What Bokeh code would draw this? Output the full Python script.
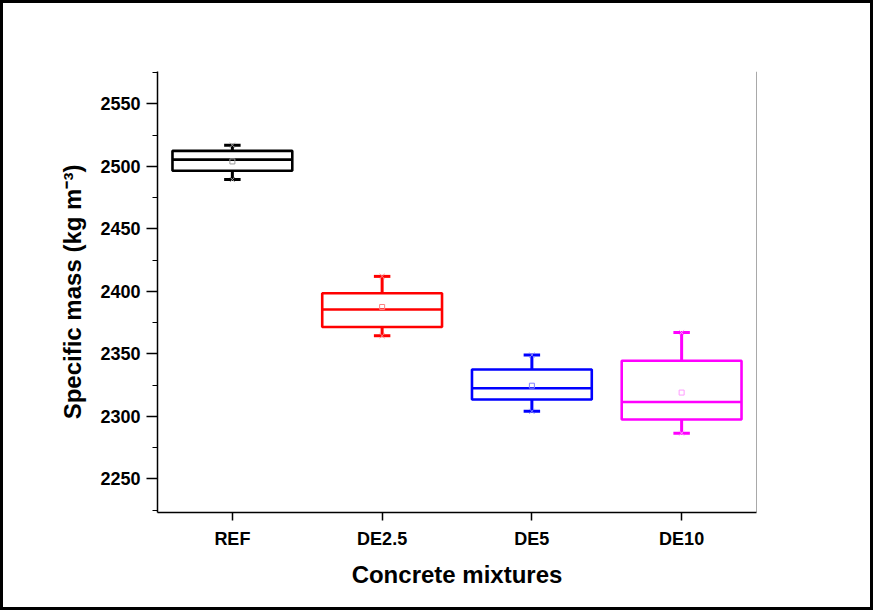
from bokeh.plotting import figure
from bokeh.models import FixedTicker, Span, ColumnDataSource
from bokeh.embed import file_html
from bokeh.resources import INLINE

# ---- data ----
categories = ["REF", "DE2.5", "DE5", "DE10"]
whisker_low = [2489.5, 2364.5, 2304.0, 2286.5]
q1 = [2496.5, 2371.5, 2313.5, 2297.5]
median = [2505.5, 2385.5, 2322.5, 2311.5]
q3 = [2512.5, 2398.5, 2337.5, 2344.5]
whisker_high = [2517.0, 2412.0, 2349.0, 2367.0]
means = [2504.0, 2387.5, 2324.5, 2319.0]
colors = ["#000000", "#FF0000", "#0000FF", "#FF00FF"]
mean_colors = ["#9a9a9a", "#ff8080", "#8080ff", "#ff9cff"]

yticks = [2250, 2300, 2350, 2400, 2450, 2500, 2550]

xs = [i + 1 for i in range(len(categories))]
box_w = 0.8
cap_w = 0.11

src = ColumnDataSource(dict(
    x=xs, q1=q1, q3=q3, med=median, lo=whisker_low, hi=whisker_high,
    mean=means, color=colors, mcolor=mean_colors,
    bx0=[x - box_w / 2 for x in xs], bx1=[x + box_w / 2 for x in xs],
    cx0=[x - cap_w / 2 for x in xs], cx1=[x + cap_w / 2 for x in xs],
))

p = figure(width=873, height=610, output_backend="svg", toolbar_location=None,
           x_range=(0.5, 4.5), y_range=(2223, 2576),
           min_border_left=157, min_border_right=117,
           min_border_top=71, min_border_bottom=98)
p.styles = {"box-shadow": "inset 0 0 0 3px black"}

p.grid.visible = False
p.outline_line_color = None
p.background_fill_alpha = 0
p.border_fill_alpha = 0

# whiskers
p.segment(x0="x", y0="q3", x1="x", y1="hi", source=src, line_color="color", line_width=3)
p.segment(x0="x", y0="q1", x1="x", y1="lo", source=src, line_color="color", line_width=3)
# caps
p.segment(x0="cx0", y0="hi", x1="cx1", y1="hi", source=src, line_color="color", line_width=3)
p.segment(x0="cx0", y0="lo", x1="cx1", y1="lo", source=src, line_color="color", line_width=3)
# min/max markers
p.scatter(x="x", y="hi", source=src, marker="x", size=7, line_color="mcolor", line_width=1)
p.scatter(x="x", y="lo", source=src, marker="x", size=7, line_color="mcolor", line_width=1)
# boxes
p.quad(left="bx0", right="bx1", bottom="q1", top="q3", source=src,
       fill_color=None, line_color="color", line_width=2.6)
# medians
p.segment(x0="bx0", y0="med", x1="bx1", y1="med", source=src, line_color="color", line_width=2.6)
# means
p.scatter(x="x", y="mean", source=src, marker="square", size=5, fill_color=None,
          line_color="mcolor", line_width=1)

# right frame line
p.add_layout(Span(location=4.5, dimension="height", line_color="#555555", line_width=1))

font = "Liberation Sans"
# x axis
xa = p.xaxis[0]
xa.ticker = FixedTicker(ticks=xs, minor_ticks=[])
xa.major_label_overrides = {x: c for x, c in zip(xs, categories)}
xa.axis_label = "Concrete mixtures"
xa.axis_label_text_font = font
xa.axis_label_text_font_style = "bold"
xa.axis_label_text_font_size = "24px"
xa.axis_label_text_color = "black"
xa.axis_label_standoff = 9
xa.major_label_text_font = font
xa.major_label_text_font_style = "bold"
xa.major_label_text_font_size = "18px"
xa.major_label_text_color = "black"
xa.major_label_standoff = 8
xa.major_tick_out = 8
xa.major_tick_in = 0
xa.minor_tick_out = 0
xa.minor_tick_in = 0
xa.axis_line_width = 1.5
xa.major_tick_line_width = 1.5
xa.axis_line_color = "black"

ya = p.yaxis[0]
ya.ticker = FixedTicker(ticks=yticks, minor_ticks=[v + 25 for v in yticks] + [yticks[0] - 25])
ya.axis_label = "Specific mass (kg m\u207b\u00b3)"
ya.axis_label_text_font = font
ya.axis_label_text_font_style = "bold"
ya.axis_label_text_font_size = "24px"
ya.axis_label_text_color = "black"
ya.axis_label_standoff = 11
ya.major_label_text_font = font
ya.major_label_text_font_style = "bold"
ya.major_label_text_font_size = "18px"
ya.major_label_text_color = "black"
ya.major_label_standoff = 6
ya.major_tick_out = 11
ya.major_tick_in = 0
ya.minor_tick_out = 5
ya.minor_tick_in = 0
ya.axis_line_width = 1.5
ya.major_tick_line_width = 1.5
ya.minor_tick_line_width = 1
ya.axis_line_color = "black"

open("out.html", "w").write(file_html(p, INLINE))
